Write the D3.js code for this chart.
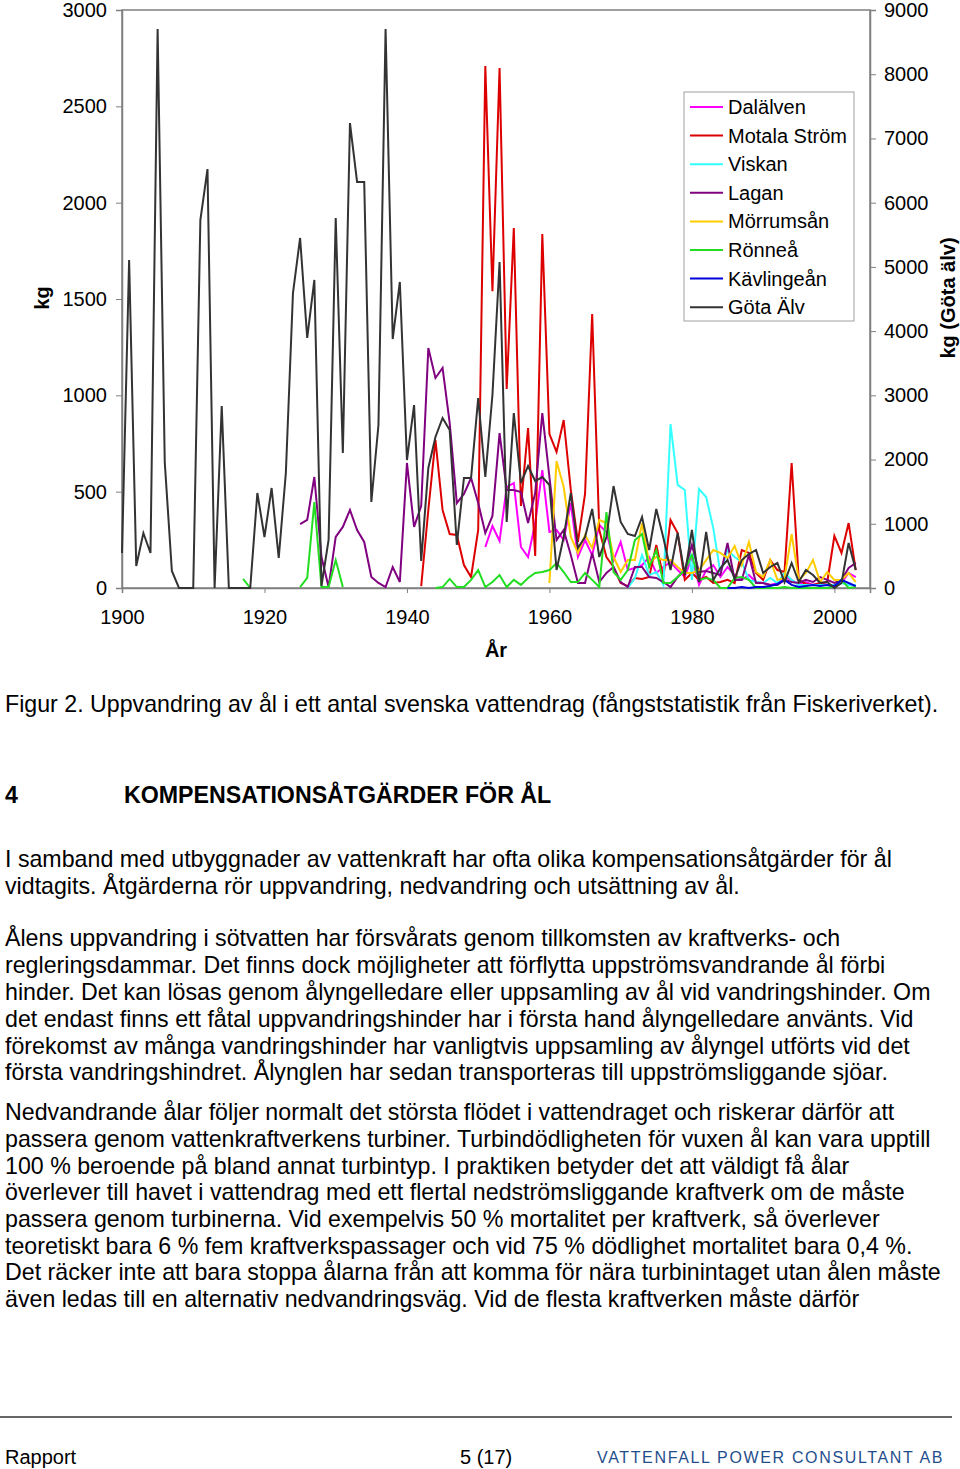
<!DOCTYPE html>
<html>
<head>
<meta charset="utf-8">
<script src="https://cdn.jsdelivr.net/npm/d3@7"></script>
<style>
  body { margin: 0; background: #fff; }
  text { font-family: "Liberation Sans", Arial, sans-serif; }
</style>
</head>
<body>
<svg id="page" width="960" height="1469"></svg>
<script>
// ---- data (kg per year) ----
var yearLabels = [1900, 1920, 1940, 1960, 1980, 2000];
var leftTicks = [0, 500, 1000, 1500, 2000, 2500, 3000];
var rightTicks = [0, 1000, 2000, 3000, 4000, 5000, 6000, 7000, 8000, 9000];

// Dalälven from 1951
var dalalvenStart = 1951;
var dalalven = [213, 322, 244, 524, 545, 213, 161, 337, 612, 291,
  301, 249, 441, 161, 249, 171, 327, 291, 145, 239,
  93, 104, 119, 161, 78, 109, 135, 93, 57, 161,
  16, 93, 119, 57, 109, 67, 42, 67, 31, 26,
  16, 26, 57, 42, 16, 31, 16, 26, 16, 16,
  26, 78, 57];

// Motala Ström from 1942
var motalaStart = 1942;
var motala = [10, 405, 768, 405, 280, 275, 119, 57, 301, 2709,
  1541, 2699, 1033, 1868, 426, 830, 166, 1837, 799, 706,
  872, 509, 239, 488, 1422, 301, 161, 109, 26, 10,
  52, 47, 57, 223, 57, 353, 285, 42, 78, 42,
  57, 26, 31, 42, 26, 197, 182, 78, 42, 145,
  93, 83, 649, 42, 21, 16, 26, 31, 270, 182,
  337, 93];

// Viskan from 1971
var viskanStart = 1971;
var viskan = [0, 52, 171, 67, 83, 16, 851, 535, 509, 42,
  514, 472, 311, 78, 197, 161, 135, 42, 31, 26,
  52, 26, 78, 42, 16, 16, 16, 16, 16, 16,
  26, 16, 16];

// Lagan from 1925
var laganStart = 1925;
var lagan = [332, 353, 576, 161, 5, 265, 317, 405, 301, 239,
  57, 26, 5, 109, 31, 649, 317, 426, 1246, 1090,
  1142, 856, 441, 488, 571, 441, 285, 374, 804, 509,
  509, 498, 337, 493, 908, 576, 249, 301, 171, 26,
  26, 182, 31, 78, 109, 31, 5, 109, 109, 57,
  52, 31, 5, 57, 93, 223, 83, 88, 78, 67,
  234, 42, 42, 171, 26, 26, 16, 16, 42, 31,
  26, 42, 31, 57, 42, 26, 42, 104, 130];

// Mörrumsån from 1960
var morrumStart = 1960;
var morrum = [26, 659, 524, 265, 182, 275, 208, 353, 337, 161,
  83, 145, 145, 337, 130, 161, 145, 145, 109, 78,
  78, 93, 145, 197, 182, 156, 218, 119, 239, 83,
  57, 145, 42, 52, 280, 42, 78, 145, 31, 83,
  42, 42, 78, 31];

// Rönneå from 1917 (null = no data)
var ronneaStart = 1917;
var ronnea = [47, 0, null, null, null, null, null, null, 5, 52,
  446, 5, 5, 145, 5, null, null, null, null, null,
  null, null, null, null, null, null, null, 0, 5, 47,
  5, 5, 42, 93, 5, 31, 67, 5, 42, 16,
  52, 78, 83, 93, 130, 83, 31, 31, 78, 42,
  5, 394, 83, 42, 93, 249, 280, 109, 197, 26,
  26, 57, 93, 171, 42, 52, 42, 0, 0, 52,
  57, 42, 0, 0, 0, 0, 5, 0, 0, 0,
  0, 0, 0, 10, 42, 0, 5];

// Kävlingeån from 1985
var kavlingeStart = 1985;
var kavlinge = [0, 0, 5, 0, 5, 5, 10, 21, 42, 16,
  5, 10, 16, 10, 16, 10, 42, 26, 10];

// Göta Älv (right axis) from 1900
var gotaStart = 1900;
var gota = [545, 5107, 343, 856, 545, 8704, 1962, 265, 0, 0,
  0, 5730, 6524, 0, 2834, 0, 0, 0, 0, 1479,
  794, 1557, 467, 1791, 4593, 5450, 3893, 4796, 31, 747,
  5761, 2102, 7240, 6322, 6322, 1339, 2538, 8704, 3877, 4765,
  1993, 2849, 420, 1869, 2351, 2647, 2460, 670, 1713, 1713,
  2958, 1728, 3005, 5076, 1028, 2725, 1635, 1900, 1666, 1728,
  1604, 280, 794, 1479, 623, 794, 1230, 483, 794, 1588,
  1028, 841, 810, 1106, 592, 1230, 779, 280, 856, 202,
  903, 93, 872, 125, 311, 436, 140, 436, 529, 592,
  234, 327, 389, 93, 389, 93, 280, 202, 78, 93,
  0, 78, 701, 280];

var seriesNames = ["Dalälven", "Motala Ström", "Viskan", "Lagan", "Mörrumsån", "Rönneå", "Kävlingeån", "Göta Älv"];
var seriesColors = ["#ff00ff", "#dd0000", "#33ffff", "#800080", "#ffcc00", "#22dd22", "#0000dd", "#333333"];

var series = [
  {start: dalalvenStart, values: dalalven, axis: "left"},
  {start: motalaStart, values: motala, axis: "left"},
  {start: viskanStart, values: viskan, axis: "left"},
  {start: laganStart, values: lagan, axis: "left"},
  {start: morrumStart, values: morrum, axis: "left"},
  {start: ronneaStart, values: ronnea, axis: "left"},
  {start: kavlingeStart, values: kavlinge, axis: "left"},
  {start: gotaStart, values: gota, axis: "right"}
];

var svg = d3.select("#page");

var plot = {left: 122, right: 870, top: 10, bottom: 588};

var x = d3.scaleLinear().domain([1900, 2005]).range([plot.left, plot.right]);
var yL = d3.scaleLinear().domain([0, 3000]).range([plot.bottom, plot.top]);
var yR = d3.scaleLinear().domain([0, 9000]).range([plot.bottom, plot.top]);

// frame
svg.append("rect")
  .attr("x", plot.left).attr("y", plot.top)
  .attr("width", plot.right - plot.left).attr("height", plot.bottom - plot.top)
  .attr("fill", "none").attr("stroke", "#808080").attr("stroke-width", 1.5);

// axes
var axisL = svg.append("g").attr("transform", "translate(" + plot.left + ",0)")
  .call(d3.axisLeft(yL).tickValues(leftTicks).tickFormat(d3.format("d")).tickSize(6).tickPadding(9));
var axisR = svg.append("g").attr("transform", "translate(" + plot.right + ",0)")
  .call(d3.axisRight(yR).tickValues(rightTicks).tickFormat(d3.format("d")).tickSize(6).tickPadding(8));
var axisB = svg.append("g").attr("transform", "translate(0," + plot.bottom + ")")
  .call(d3.axisBottom(x).tickValues(yearLabels).tickFormat(d3.format("d")).tickSize(5).tickPadding(17));

[axisL, axisR, axisB].forEach(function(a){
  a.select(".domain").attr("stroke", "#808080").attr("stroke-width", 1.5);
  a.selectAll(".tick line").attr("stroke", "#808080");
  a.selectAll("text").attr("font-size", 20).attr("fill", "#000")
    .attr("font-family", "'Liberation Sans', Arial, sans-serif");
});

// axis titles
svg.append("text").attr("transform", "translate(49,298) rotate(-90)")
  .attr("text-anchor", "middle").attr("font-size", 20).attr("font-weight", "bold").text("kg");
svg.append("text").attr("transform", "translate(955,298) rotate(-90)")
  .attr("text-anchor", "middle").attr("font-size", 20).attr("font-weight", "bold").text("kg (Göta älv)");
svg.append("text").attr("x", 496).attr("y", 657)
  .attr("text-anchor", "middle").attr("font-size", 20).attr("font-weight", "bold").text("År");

// lines
var lines = svg.append("g").attr("class", "lines");
series.forEach(function(s, i){
  var pts = s.values.map(function(v, j){ return {year: s.start + j, value: v}; });
  var yScale = s.axis == "right" ? yR : yL;
  var line = d3.line()
    .defined(function(d){ return d.value != null; })
    .x(function(d){ return x(d.year); })
    .y(function(d){ return yScale(d.value); });
  lines.append("path")
    .datum(pts)
    .attr("d", line)
    .attr("fill", "none")
    .attr("stroke", seriesColors[i])
    .attr("stroke-width", 2)
    .attr("stroke-linejoin", "miter");
});

// legend
var legend = svg.append("g").attr("transform", "translate(684,92)");
legend.append("rect").attr("width", 170).attr("height", 229)
  .attr("fill", "#fff").attr("stroke", "#a0a0a0");
seriesNames.forEach(function(name, i){
  var ly = 15 + i * 28.6;
  legend.append("line").attr("x1", 6).attr("x2", 39).attr("y1", ly).attr("y2", ly)
    .attr("stroke", seriesColors[i]).attr("stroke-width", 2);
  legend.append("text").attr("x", 44).attr("y", ly + 7)
    .attr("font-size", 20).text(name);
});

// page text
var fs = 23.2;
svg.append("text").attr("x", 5).attr("y", 712).attr("font-size", fs)
  .text("Figur 2. Uppvandring av ål i ett antal svenska vattendrag (fångststatistik från Fiskeriverket).");

svg.append("text").attr("x", 5).attr("y", 803).attr("font-size", fs).attr("font-weight", "bold").text("4");
svg.append("text").attr("x", 124).attr("y", 803).attr("font-size", fs).attr("font-weight", "bold")
  .text("KOMPENSATIONSÅTGÄRDER FÖR ÅL");

var bodyLines = [
  [867, "I samband med utbyggnader av vattenkraft har ofta olika kompensationsåtgärder för ål"],
  [894, "vidtagits. Åtgärderna rör uppvandring, nedvandring och utsättning av ål."],
  [946, "Ålens uppvandring i sötvatten har försvårats genom tillkomsten av kraftverks- och"],
  [973, "regleringsdammar. Det finns dock möjligheter att förflytta uppströmsvandrande ål förbi"],
  [1000, "hinder. Det kan lösas genom ålyngelledare eller uppsamling av ål vid vandringshinder. Om"],
  [1027, "det endast finns ett fåtal uppvandringshinder har i första hand ålyngelledare använts. Vid"],
  [1054, "förekomst av många vandringshinder har vanligtvis uppsamling av ålyngel utförts vid det"],
  [1080, "första vandringshindret. Ålynglen har sedan transporteras till uppströmsliggande sjöar."],
  [1120, "Nedvandrande ålar följer normalt det största flödet i vattendraget och riskerar därför att"],
  [1147, "passera genom vattenkraftverkens turbiner. Turbindödligheten för vuxen ål kan vara upptill"],
  [1174, "100 % beroende på bland annat turbintyp. I praktiken betyder det att väldigt få ålar"],
  [1200, "överlever till havet i vattendrag med ett flertal nedströmsliggande kraftverk om de måste"],
  [1227, "passera genom turbinerna. Vid exempelvis 50 % mortalitet per kraftverk, så överlever"],
  [1254, "teoretiskt bara 6 % fem kraftverkspassager och vid 75 % dödlighet mortalitet bara 0,4 %."],
  [1280, "Det räcker inte att bara stoppa ålarna från att komma för nära turbinintaget utan ålen måste"],
  [1307, "även ledas till en alternativ nedvandringsväg. Vid de flesta kraftverken måste därför"]
];
svg.append("g").selectAll("text").data(bodyLines).enter().append("text")
  .attr("x", 5).attr("y", function(d){ return d[0]; })
  .attr("font-size", fs)
  .text(function(d){ return d[1]; });

// footer
svg.append("line").attr("x1", 0).attr("x2", 952).attr("y1", 1417).attr("y2", 1417)
  .attr("stroke", "#333").attr("stroke-width", 1.5);
svg.append("text").attr("x", 5).attr("y", 1464).attr("font-size", 20)
  .attr("font-family", "'Liberation Sans Narrow', 'Liberation Sans', sans-serif").text("Rapport");
svg.append("text").attr("x", 460).attr("y", 1464).attr("font-size", 20)
  .attr("font-family", "'Liberation Sans Narrow', 'Liberation Sans', sans-serif").text("5 (17)");
svg.append("text").attr("x", 597).attr("y", 1463).attr("font-size", 16)
  .attr("font-family", "'DejaVu Sans Mono', monospace").attr("fill", "#1f4e8c")
  .attr("letter-spacing", 1.65).text("VATTENFALL POWER CONSULTANT AB");
</script>
</body>
</html>
